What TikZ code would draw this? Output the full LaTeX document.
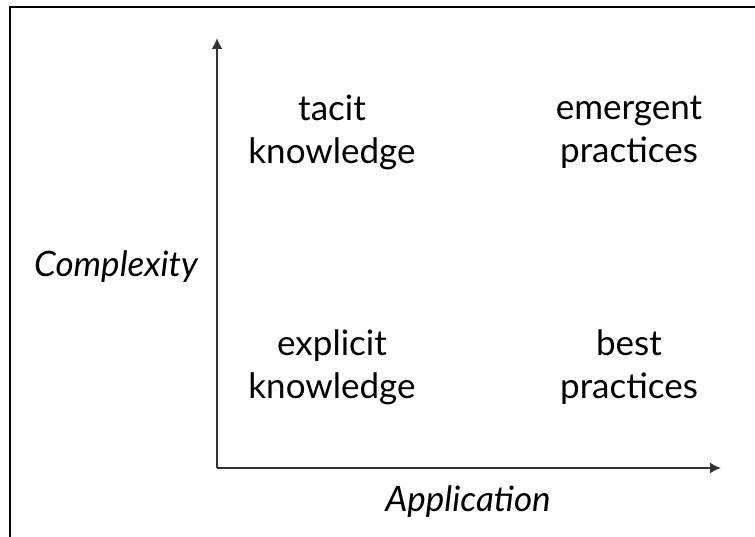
\documentclass[tikz,border=0pt]{standalone}
\usepackage{fontspec}
\setmainfont{Lato}
\usetikzlibrary{arrows.meta}
\definecolor{axisgray}{HTML}{333333}
\tikzset{
  lbl/.style={align=center, inner sep=0pt, font=\fontsize{35}{43}\selectfont, text=black},
  axlbl/.style={inner sep=0pt, font=\fontsize{35}{43}\selectfont\itshape, text=black, anchor=base},
  axis/.style={draw=axisgray, line width=2pt, -{Latex[length=11pt,width=11pt]}},
  frameline/.style={draw=black, line width=2.5pt}
}
\begin{document}
\begin{tikzpicture}[x=1pt,y=1pt]
\useasboundingbox (0,0) rectangle (755,537);
\fill[white] (0,0) rectangle (755,537);
% frame (top and left)
\coordinate (fbl) at (10,0);
\coordinate (ftl) at (10,530);
\coordinate (ftr) at (755,530);
\draw[frameline] (fbl) -- (ftl) -- (ftr);
% axes
\coordinate (o) at (217,69);
\coordinate (ytip) at (217,499);
\coordinate (xtip) at (721,69);
\draw[axis] (o) -- (ytip);
\draw[axis] (o) -- (xtip);
% quadrant labels
\node[lbl] (tk) at (332,405) {tacit\\knowledge};
\node[lbl] (ep) at (629,405) {emergent\\practices};
\node[lbl] (ek) at (332,170) {explicit\\knowledge};
\node[lbl] (bp) at (629,170) {best\\practices};
% axis labels
\node[axlbl] (cx) at (116,260) {Complexity};
\node[axlbl] (ap) at (468,25) {Application};
\end{tikzpicture}
\end{document}
